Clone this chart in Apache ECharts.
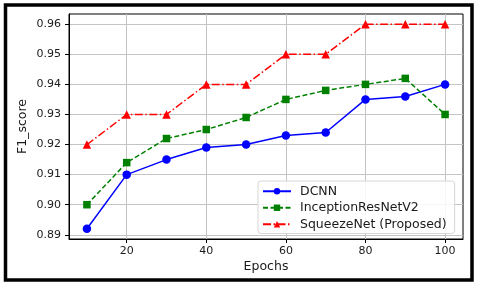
<!DOCTYPE html>
<html>
<head>
<meta charset="utf-8">
<script src="https://cdn.jsdelivr.net/npm/echarts@6/dist/echarts.min.js"></script>
<style>
html,body{margin:0;padding:0;background:#fff;}
#c{width:480px;height:286px;}
</style>
</head>
<body>
<div id="c"></div>
<script>
const epochs = [10, 20, 30, 40, 50, 60, 70, 80, 90, 100];
const dcnn = [0.892, 0.910, 0.915, 0.919, 0.920, 0.923, 0.924, 0.935, 0.936, 0.940];
const inception = [0.900, 0.914, 0.922, 0.925, 0.929, 0.935, 0.938, 0.940, 0.942, 0.930];
const squeeze = [0.920, 0.930, 0.930, 0.940, 0.940, 0.950, 0.950, 0.960, 0.960, 0.960];
const xTicks = [20, 40, 60, 80, 100];
const yTicks = [0.89, 0.90, 0.91, 0.92, 0.93, 0.94, 0.95, 0.96];
const seriesNames = ['DCNN', 'InceptionResNetV2', 'SqueezeNet (Proposed)'];

const pair = vals => epochs.map((e, i) => [e, vals[i]]);
const FONT = 'DejaVu Sans';

const chart = echarts.init(document.getElementById('c'), null, {renderer: 'canvas'});
chart.setOption({
  animation: false,
  backgroundColor: '#fff',
  textStyle: {fontFamily: FONT},
  grid: {left: 69, top: 14, right: 17, bottom: 47, show: true, borderColor: '#000', borderWidth: 1, backgroundColor: 'transparent'},
  graphic: [{
    type: 'rect', shape: {x: 5.5, y: 5, width: 466.5, height: 275}, z: 100,
    style: {fill: 'none', stroke: '#000', lineWidth: 3.5}
  }],
  legend: {
    orient: 'vertical', left: 258, top: 181,
    padding: [3, 8, 2, 4], itemGap: 2, itemWidth: 28, itemHeight: 8,
    backgroundColor: 'rgba(255,255,255,0.85)', borderColor: '#d6d6d6', borderWidth: 1, borderRadius: 3,
    textStyle: {fontFamily: FONT, fontSize: 12.5, color: '#1a1a1a', padding: [0, 0, 0, 4], lineHeight: 14.5},
    data: seriesNames
  },
  xAxis: {
    type: 'value', min: 5.5, max: 104.5,
    name: 'Epochs', nameLocation: 'middle', nameGap: 21, nameMoveOverlap: false,
    nameTextStyle: {fontFamily: FONT, fontSize: 12.5, color: '#1a1a1a'},
    axisLine: {show: true, onZero: false, lineStyle: {color: '#000', width: 1}},
    axisTick: {show: true, length: 4, customValues: xTicks, lineStyle: {color: '#000'}},
    axisLabel: {customValues: xTicks, margin: 7, fontFamily: FONT, fontSize: 11, color: '#1a1a1a'},
    splitLine: {show: true, lineStyle: {color: '#c4c4c4', width: 1}}
  },
  yAxis: {
    type: 'value', min: 0.8886, max: 0.9634,
    name: 'F1_score', nameLocation: 'middle', nameGap: 40, nameMoveOverlap: false,
    nameTextStyle: {fontFamily: FONT, fontSize: 12.5, color: '#1a1a1a'},
    axisLine: {show: true, onZero: false, lineStyle: {color: '#000', width: 1}},
    axisTick: {show: true, length: 4, customValues: yTicks, lineStyle: {color: '#000'}},
    axisLabel: {customValues: yTicks, margin: 8, fontFamily: FONT, fontSize: 11, color: '#1a1a1a',
      formatter: v => v.toFixed(2)},
    splitLine: {show: true, lineStyle: {color: '#c4c4c4', width: 1}}
  },
  series: [
    {name: seriesNames[0], type: 'line', data: pair(dcnn), symbol: 'circle', symbolSize: 8.5,
     itemStyle: {color: '#0000ff'}, lineStyle: {color: '#0000ff', width: 1.5, type: 'solid'}},
    {name: seriesNames[1], type: 'line', data: pair(inception), symbol: 'rect', symbolSize: 7.5,
     itemStyle: {color: '#008000'}, lineStyle: {color: '#008000', width: 1.5, type: [5, 2.5]}},
    {name: seriesNames[2], type: 'line', data: pair(squeeze), symbol: 'triangle', symbolSize: 8.5,
     itemStyle: {color: '#ff0000'}, lineStyle: {color: '#ff0000', width: 1.5, type: [8, 2.5, 1.5, 2.5]}}
  ]
});
</script>
</body>
</html>
